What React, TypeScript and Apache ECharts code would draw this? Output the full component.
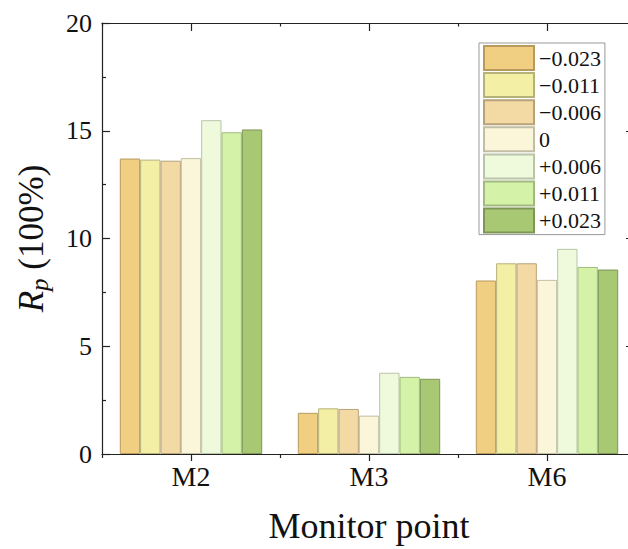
import React, { useEffect, useRef } from "react";
import * as echarts from "echarts";

const categories = ["M2", "M3", "M6"];
const seriesNames = ["−0.023", "−0.011", "−0.006", "0", "+0.006", "+0.011", "+0.023"];
const valsM2 = [13.71, 13.66, 13.61, 13.73, 15.49, 14.93, 15.06];
const valsM3 = [1.91, 2.12, 2.09, 1.78, 3.77, 3.58, 3.49];
const valsM6 = [8.05, 8.85, 8.85, 8.08, 9.52, 8.68, 8.56];
const colors = ["#F0CE82", "#F3EFA5", "#F3DAA5", "#FBF6DA", "#EEFADB", "#D4F3A8", "#A9C873"];
const borders = ["#B89A5C", "#B5B27A", "#B8A27A", "#C2BDA5", "#B9C4AA", "#A2BA80", "#7E9656"];

const FONT = "'Liberation Serif', 'Times New Roman', serif";
const INK = "#111";

export default function App() {
  const ref = useRef<HTMLDivElement>(null);
  useEffect(() => {
    if (!ref.current) return;
    const chart = echarts.init(ref.current, undefined, { renderer: "svg" });
    const axisLineStyle = { color: "#222", width: 1.2 };
    const series = seriesNames.map((name, i) => ({
      name,
      type: "bar",
      xAxisIndex: 0,
      yAxisIndex: 0,
      data: [valsM2[i], valsM3[i], valsM6[i]],
      barGap: "0%",
      barCategoryGap: "20%",
      itemStyle: { color: colors[i], borderColor: borders[i], borderWidth: 1 },
    }));
    chart.setOption({
      animation: false,
      backgroundColor: "#fff",
      textStyle: { fontFamily: FONT },
      grid: { left: 102, right: 14, top: 23, bottom: 95, containLabel: false, outerBoundsMode: "none" },
      legend: {
        orient: "vertical",
        left: 479,
        top: 43,
        data: seriesNames,
        itemWidth: 50,
        itemHeight: 24,
        itemGap: 1.1,
        padding: [2, 4, 1, 4],
        borderColor: "#999",
        borderWidth: 1,
        icon: "rect",
        textStyle: { fontFamily: FONT, fontSize: 22, color: INK },
      },
      xAxis: [
        {
          type: "category",
          data: categories,
          position: "bottom",
          axisLine: { show: true, lineStyle: axisLineStyle },
          axisTick: { show: true, alignWithLabel: true, length: 7, inside: false, lineStyle: axisLineStyle },
          axisLabel: { fontFamily: FONT, fontSize: 28, color: INK, margin: 8 },
          name: "Monitor point",
          nameLocation: "middle",
          nameGap: 54,
          nameTextStyle: { fontFamily: FONT, fontSize: 36, color: INK },
        },
        {
          type: "category",
          data: categories,
          position: "bottom",
          axisLine: { show: false },
          axisTick: { show: true, length: 4, inside: false, lineStyle: axisLineStyle },
          axisLabel: { show: false },
        },
        {
          type: "category",
          data: categories,
          position: "top",
          axisLine: { show: true, lineStyle: axisLineStyle },
          axisTick: { show: true, alignWithLabel: true, length: 8, inside: true, lineStyle: axisLineStyle },
          axisLabel: { show: false },
        },
        {
          type: "category",
          data: categories,
          position: "top",
          axisLine: { show: false },
          axisTick: { show: true, length: 3.5, inside: true, lineStyle: axisLineStyle },
          axisLabel: { show: false },
        },
      ],
      yAxis: [
        {
          type: "value",
          min: 0,
          max: 20,
          interval: 5,
          position: "left",
          axisLine: { show: true, lineStyle: axisLineStyle },
          axisTick: { show: true, inside: true, length: 8, lineStyle: axisLineStyle },
          minorTick: { show: true, splitNumber: 2, length: 4, lineStyle: axisLineStyle },
          splitLine: { show: false },
          axisLabel: { fontFamily: FONT, fontSize: 26, color: INK, margin: 10 },
          name: "{i|R}{s|p}{n| (100%)}",
          nameLocation: "middle",
          nameGap: 50,
          nameTextStyle: {
            fontFamily: FONT,
            color: INK,
            rich: {
              i: { fontFamily: FONT, fontSize: 35, fontStyle: "italic", color: INK },
              s: { fontFamily: FONT, fontSize: 25, fontStyle: "italic", color: INK, padding: [16, 0, 0, 0] },
              n: { fontFamily: FONT, fontSize: 35, color: INK },
            },
          },
        },
        {
          type: "value",
          min: 0,
          max: 20,
          interval: 5,
          position: "right",
          axisLine: { show: true, lineStyle: axisLineStyle },
          axisTick: { show: true, inside: true, length: 10, lineStyle: axisLineStyle },
          minorTick: { show: true, splitNumber: 2, length: 4, lineStyle: axisLineStyle },
          splitLine: { show: false },
          axisLabel: { show: false },
        },
      ],
      series,
    });
    return () => chart.dispose();
  }, []);
  return (
    <div style={{ position: "fixed", left: 0, top: 0, width: 628, height: 549, overflow: "hidden", background: "#fff" }}>
      <div ref={ref} style={{ position: "absolute", left: 0, top: 0, width: 650, height: 549 }} />
    </div>
  );
}
